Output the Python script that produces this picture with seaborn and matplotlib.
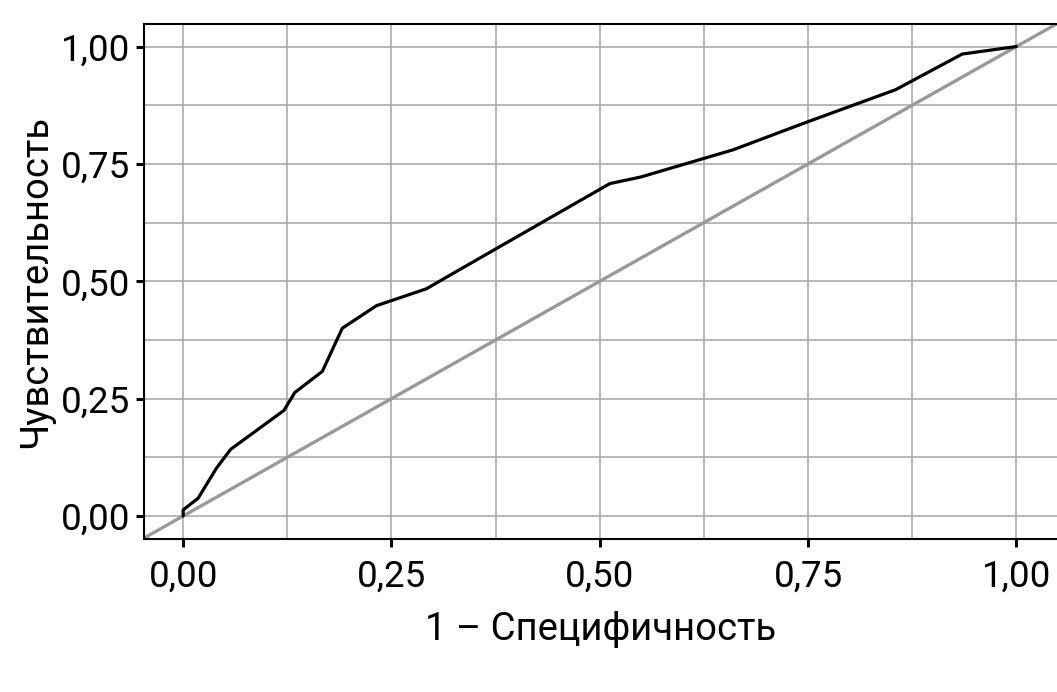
import matplotlib
matplotlib.use("Agg")
import matplotlib.pyplot as plt
from matplotlib.ticker import MultipleLocator, FuncFormatter
import seaborn as sns
import pandas as pd

# ROC curve
fpr = [0.000, 0.000, 0.018, 0.040, 0.057, 0.121, 0.134, 0.167, 0.191, 0.232,
       0.292, 0.332, 0.512, 0.549, 0.660, 0.750, 0.855, 0.935, 1.000]
tpr = [0.000, 0.013, 0.038, 0.102, 0.142, 0.225, 0.263, 0.308, 0.400, 0.448,
       0.484, 0.525, 0.708, 0.722, 0.780, 0.840, 0.908, 0.984, 1.000]
major_ticks = [0.00, 0.25, 0.50, 0.75, 1.00]
x_label = "1 – Специфичность"
y_label = "Чувствительность"

sns.set_style("ticks")
plt.rcParams['font.family'] = ['Roboto', 'DejaVu Sans']
plt.rcParams['text.color'] = 'black'
plt.rcParams['axes.labelcolor'] = 'black'
plt.rcParams['xtick.color'] = 'black'
plt.rcParams['ytick.color'] = 'black'

df = pd.DataFrame({"fpr": fpr, "tpr": tpr})

fig = plt.figure(figsize=(10.57, 6.92), dpi=100)
ax = fig.add_axes([144 / 1057, 1 - 539 / 692, 1 - 144 / 1057 + 0.001, (539 - 24) / 692])

ax.axline((0, 0), (1, 1), color="#999999", lw=2.4, zorder=2)
sns.lineplot(data=df, x="fpr", y="tpr", sort=False, estimator=None,
             color="black", lw=2.3, ax=ax, zorder=3)

ax.set_xlim(-0.047, 1.05)
ax.set_ylim(-0.049, 1.048)
ax.set_xticks(major_ticks)
ax.set_yticks(major_ticks)
ax.xaxis.set_minor_locator(MultipleLocator(0.125))
ax.yaxis.set_minor_locator(MultipleLocator(0.125))
fmt = FuncFormatter(lambda v, p: f"{v:.2f}".replace(".", ","))
ax.xaxis.set_major_formatter(fmt)
ax.yaxis.set_major_formatter(fmt)

ax.grid(True, which="both", color="#a6a6a6", lw=1.1, zorder=0)
ax.set_axisbelow(True)
ax.tick_params(which="major", length=6, width=2.2, color="black",
               labelcolor="black", labelsize=26.5, direction="out")
ax.tick_params(axis="x", which="major", pad=8)
ax.tick_params(axis="y", which="major", pad=4)
ax.tick_params(which="minor", length=0)

for side in ["left", "top", "bottom"]:
    ax.spines[side].set_color("black")
    ax.spines[side].set_linewidth(1.5)
ax.spines["right"].set_visible(False)

ax.set_xlabel(x_label, fontsize=27.5, labelpad=12, color="black")
ax.set_ylabel(y_label, fontsize=27.5, labelpad=5, color="black")

fig.savefig("out.png", dpi=100)
